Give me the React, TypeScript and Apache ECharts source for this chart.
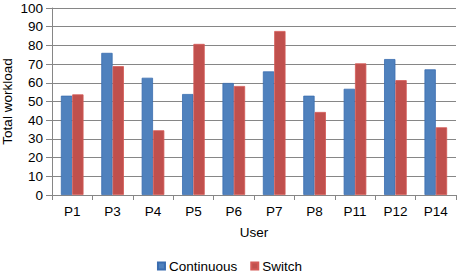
import React, { useEffect, useRef } from "react";
import * as echarts from "echarts";

const categories = ["P1", "P3", "P4", "P5", "P6", "P7", "P8", "P11", "P12", "P14"];
const continuous = [53.1, 76.0, 62.7, 54.0, 59.9, 66.1, 53.1, 56.8, 72.7, 67.2];
const switchVals = [53.8, 68.9, 34.6, 80.8, 58.3, 87.7, 44.4, 70.4, 61.4, 36.2];
const seriesNames = ["Continuous", "Switch"];

const FONT = "Liberation Sans, Arial, sans-serif";

export default function App() {
  const ref = useRef<HTMLDivElement>(null);
  useEffect(() => {
    if (!ref.current) return;
    const chart = echarts.init(ref.current, undefined, { renderer: "svg" });
    chart.setOption({
      animation: false,
      backgroundColor: "#ffffff",
      textStyle: { fontFamily: FONT },
      grid: { left: 52, right: 3, top: 8, bottom: 79, containLabel: false, outerBoundsMode: "none" },
      legend: {
        data: seriesNames,
        bottom: 1,
        padding: 0,
        left: "center",
        itemWidth: 7,
        itemHeight: 7,
        itemGap: 13,
        icon: "rect",
        textStyle: { fontSize: 13.5, color: "#000", fontFamily: FONT, padding: [0, 0, 0, -1] },
      },
      xAxis: {
        type: "category",
        data: categories,
        name: "User",
        nameLocation: "middle",
        nameGap: 30,
        nameMoveOverlap: false,
        nameTextStyle: { fontSize: 13.5, color: "#000", fontFamily: FONT },
        axisLine: { lineStyle: { color: "#868686" } },
        axisTick: { show: true, length: 5, lineStyle: { color: "#868686" } },
        axisLabel: { fontSize: 13.5, color: "#000", margin: 9, fontFamily: FONT },
      },
      yAxis: {
        type: "value",
        min: 0,
        max: 100,
        interval: 10,
        name: "Total workload",
        nameLocation: "middle",
        nameGap: 38,
        nameMoveOverlap: false,
        nameTextStyle: { fontSize: 13.5, color: "#000", fontFamily: FONT },
        axisLine: { show: true, lineStyle: { color: "#868686" } },
        axisTick: { show: true, length: 6, lineStyle: { color: "#868686" } },
        splitLine: { lineStyle: { color: "#868686" } },
        axisLabel: { fontSize: 13.5, color: "#000", margin: 9, fontFamily: FONT },
      },
      series: [
        {
          name: seriesNames[0],
          type: "bar",
          data: continuous,
          barWidth: "28%",
          barGap: "0%",
          itemStyle: { color: "#4F81BD", borderColor: "#3A6DB0", borderWidth: 0.8 },
        },
        {
          name: seriesNames[1],
          type: "bar",
          data: switchVals,
          barWidth: "28%",
          barGap: "0%",
          itemStyle: { color: "#C0504D", borderColor: "#D45A57", borderWidth: 0.8 },
        },
      ],
    });
    return () => chart.dispose();
  }, []);
  return <div ref={ref} style={{ width: 459, height: 274, position: "absolute", left: 0, top: 0 }} />;
}
